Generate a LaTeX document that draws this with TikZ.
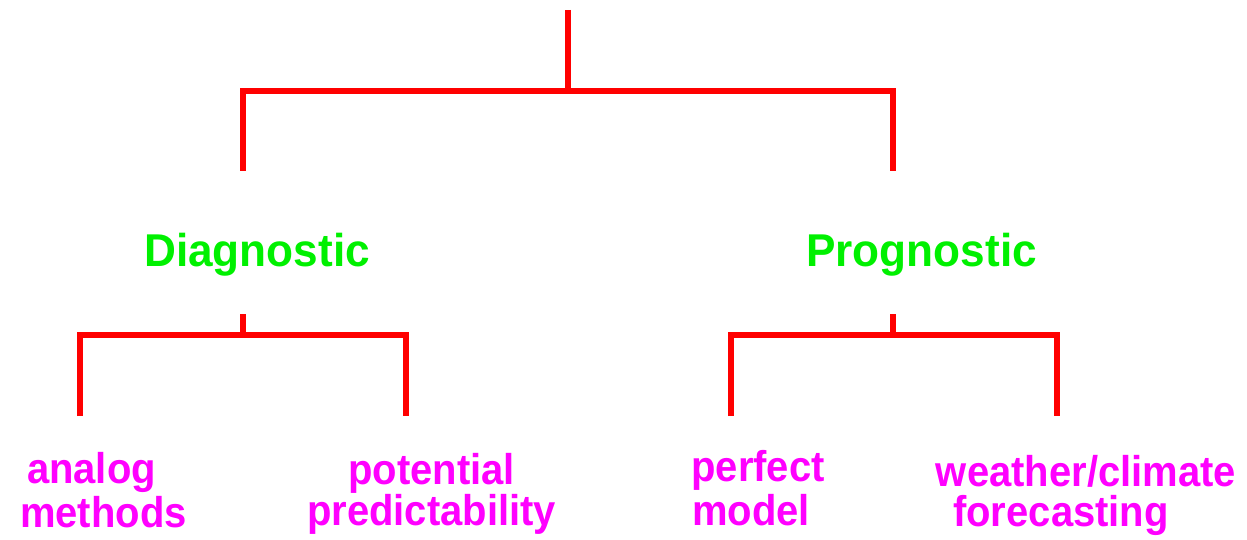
\documentclass[tikz,border=0pt]{standalone}
\usepackage{fontspec}
\newfontfamily\headfont[FakeStretch=0.96]{Liberation Sans}
\newfontfamily\leaffont[FakeStretch=0.93]{Liberation Sans}
\definecolor{tree}{RGB}{255,0,0}
\definecolor{headc}{RGB}{0,240,0}
\definecolor{leafc}{RGB}{255,0,255}
\begin{document}
\begin{tikzpicture}[x=1pt,y=-1pt,
  branch/.style={draw=tree,line width=6.5pt,line join=miter,line cap=butt},
  head/.style={text=headc,font=\headfont\bfseries\fontsize{46}{46}\selectfont,anchor=base,inner sep=0pt},
  leaf/.style={text=leafc,font=\leaffont\bfseries\fontsize{43}{40}\selectfont,align=center,anchor=base,inner sep=0pt}]
\useasboundingbox (0,0) rectangle (1247,540);
% connector end points
\coordinate (top) at (568,10);
\coordinate (mid) at (568,91);
\coordinate (dL) at (243,91);
\coordinate (dR) at (893,91);
\coordinate (dLe) at (243,171);
\coordinate (dRe) at (893,171);
\coordinate (s1) at (243,314);
\coordinate (s1b) at (243,335);
\coordinate (a1) at (80,335);
\coordinate (a2) at (406,335);
\coordinate (a1e) at (80,416);
\coordinate (a2e) at (406,416);
\coordinate (s2) at (893,314);
\coordinate (s2b) at (893,335);
\coordinate (b1) at (731,335);
\coordinate (b2) at (1057,335);
\coordinate (b1e) at (731,416);
\coordinate (b2e) at (1057,416);
% text
\node[head] (diag) at (257,266) {Diagnostic};
\node[head] (prog) at (921.5,266) {Prognostic};
\node[leaf] (analog) at (97.5,527) {analog\hspace*{12pt}\\[2pt]\hspace*{12pt}methods};
\node[leaf] (potential) at (431.5,525) {potential\\[-1pt]predictability};
\node[leaf] (perfect) at (754.5,525) {\hspace*{7pt}perfect\\[2pt]model\hspace*{7pt}};
\node[leaf] (weather) at (1073.5,526) {\hspace*{25pt}weather/climate\\[0pt]forecasting\hspace*{25pt}};
% connectors
\draw[branch] (top) -- (mid);
\draw[branch] (dLe) -- (dL) -- (dR) -- (dRe);
\draw[branch] (s1) -- (s1b);
\draw[branch] (a1e) -- (a1) -- (a2) -- (a2e);
\draw[branch] (s2) -- (s2b);
\draw[branch] (b1e) -- (b1) -- (b2) -- (b2e);
\end{tikzpicture}
\end{document}
